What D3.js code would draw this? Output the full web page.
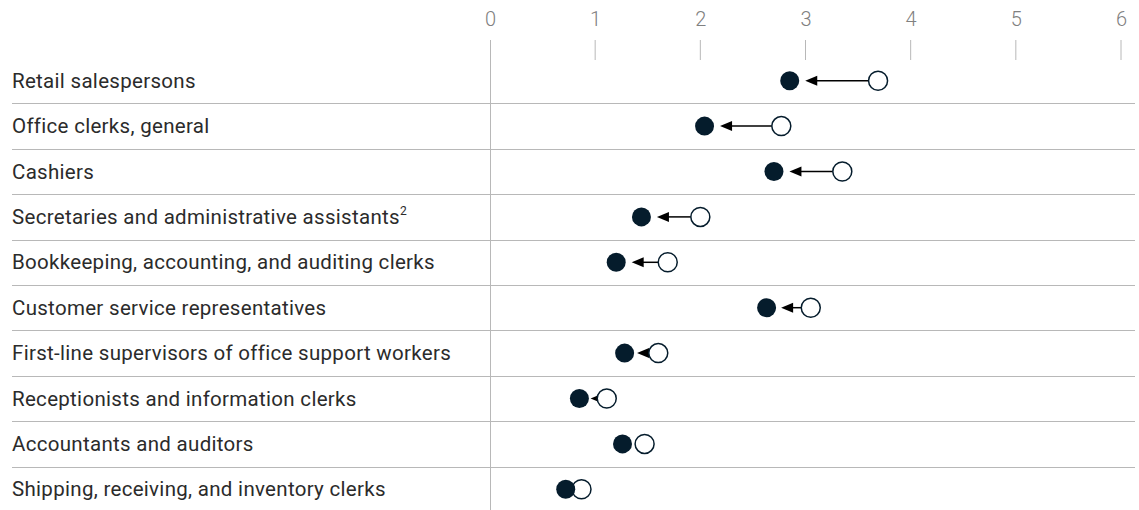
<!DOCTYPE html>
<html>
<head>
<meta charset="utf-8">
<script src="https://cdn.jsdelivr.net/npm/d3@7"></script>
<style>
  body { margin: 0; background: #fff; }
  svg { display: block; font-family: Roboto, "Liberation Sans", sans-serif; }
</style>
</head>
<body>
<div id="chart"></div>
<script>
const occupations = [
    'Retail salespersons',
    'Office clerks, general',
    'Cashiers',
    'Secretaries and administrative assistants',
    'Bookkeeping, accounting, and auditing clerks',
    'Customer service representatives',
    'First-line supervisors of office support workers',
    'Receptionists and information clerks',
    'Accountants and auditors',
    'Shipping, receiving, and inventory clerks'
]
const footnotes = ['', '', '', '2', '', '', '', '', '', '']
const fromValues = [3.69, 2.77, 3.35, 2.00, 1.69, 3.05, 1.60, 1.11, 1.47, 0.87]
const toValues = [2.85, 2.04, 2.70, 1.44, 1.20, 2.63, 1.28, 0.85, 1.26, 0.72]
const xTicks = [0, 1, 2, 3, 4, 5, 6]

const width = 1139
const height = 510
const margin = {left: 490, right: 18, top: 58, bottom: 0}
const navy = '#051c2c'
const grid = '#b8b8b8'
const r = 9.5
const headLen = 12
const headHalf = 5

const data = occupations.map((name, i) => ({name, note: footnotes[i], from: fromValues[i], to: toValues[i]}))

const svg = d3.select('#chart').append('svg')
    .attr('width', width)
    .attr('height', height)

const x = d3.scaleLinear().domain([0, 6]).range([margin.left, width - margin.right])
const y = d3.scaleBand().domain(occupations).range([margin.top, 512]).padding(0)

// Axis on top: labels + short ticks
const xAxis = d3.axisTop(x).tickValues(xTicks).tickFormat(d3.format('d')).tickSize(0).tickPadding(0)
const axisG = svg.append('g')
    .attr('transform', 'translate(0, 26)')
    .call(xAxis)
axisG.select('.domain').remove()
axisG.selectAll('text')
    .attr('font-size', 20)
    .attr('font-weight', 300)
    .attr('fill', '#808080')
    .attr('font-family', 'Roboto, sans-serif')

svg.append('g').selectAll('line')
    .data(xTicks.filter(d => d > 0))
    .join('line')
        .attr('x1', d => x(d)).attr('x2', d => x(d))
        .attr('y1', 40).attr('y2', 60)
        .attr('stroke', grid)
        .attr('stroke-width', 1)

// row separators
svg.append('g').selectAll('line')
    .data(occupations.slice(1))
    .join('line')
        .attr('x1', 12).attr('x2', width - 4)
        .attr('y1', d => Math.round(y(d)) + 0.5)
        .attr('y2', d => Math.round(y(d)) + 0.5)
        .attr('stroke', grid)
        .attr('stroke-width', 1.2)

// zero line
svg.append('line')
    .attr('x1', x(0) + 0.5).attr('x2', x(0) + 0.5)
    .attr('y1', 40).attr('y2', height)
    .attr('stroke', grid)
    .attr('stroke-width', 1)

// labels
const labels = svg.append('g').selectAll('text')
    .data(data)
    .join('text')
        .attr('x', 12)
        .attr('y', d => y(d.name) + y.bandwidth() / 2)
        .attr('dy', '0.35em')
        .attr('font-size', 20.5)
        .attr('font-weight', 400)
        .attr('letter-spacing', 0.3)
        .attr('fill', '#2b2b2b')
        .text(d => d.name)
labels.filter(d => d.note)
    .append('tspan')
        .attr('font-size', 12)
        .attr('dy', '-0.75em')
        .text(d => d.note)

const rows = svg.append('g').selectAll('g')
    .data(data)
    .join('g')
        .attr('transform', d => `translate(0, ${y(d.name) + y.bandwidth() / 2})`)

// arrows only where there is room; tip sits a little right of the filled dot
const arrows = rows.filter(d => x(d.from) - x(d.to) > 24)
const tipX = d => {
    const gap = (x(d.from) - r) - (x(d.to) + r)
    return x(d.to) + r + Math.min(6, gap * 0.2)
}

arrows.append('line')
    .attr('x1', d => x(d.from) - r)
    .attr('x2', d => Math.min(tipX(d) + headLen - 1, x(d.from) - r))
    .attr('y1', 0).attr('y2', 0)
    .attr('stroke', '#000')
    .attr('stroke-width', 1.5)

arrows.append('path')
    .attr('d', d => {
        const t = tipX(d)
        return `M${t},0L${t + headLen},${-headHalf}L${t + headLen},${headHalf}Z`
    })
    .attr('fill', '#000')

rows.append('circle')
    .attr('cx', d => x(d.from))
    .attr('r', r)
    .attr('fill', '#fff')
    .attr('stroke', navy)
    .attr('stroke-width', 1.5)

rows.append('circle')
    .attr('cx', d => x(d.to))
    .attr('r', r)
    .attr('fill', navy)
</script>
</body>
</html>
